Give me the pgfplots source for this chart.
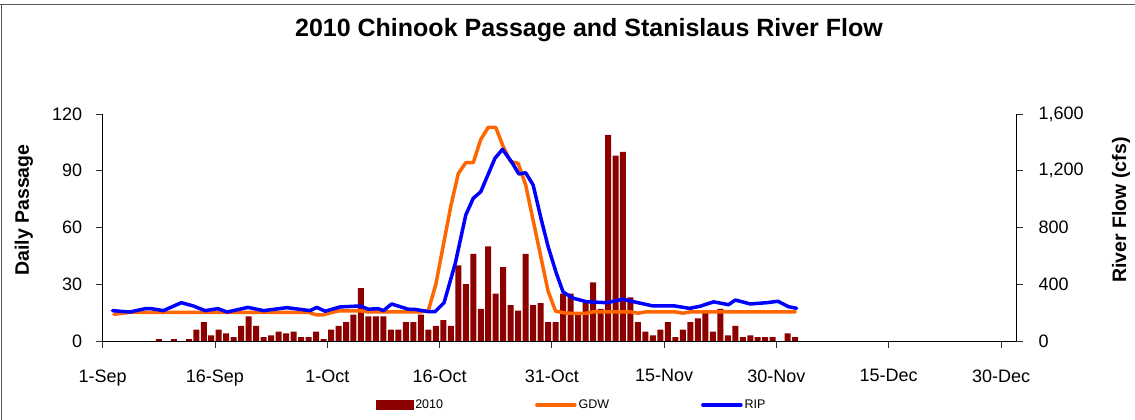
\documentclass[border=0pt]{standalone}
\usepackage{fontspec}
\setmainfont{Liberation Sans}
\usepackage{pgfplots}
\pgfplotsset{compat=1.18}
\definecolor{barred}{RGB}{140,0,0}
\definecolor{gdw}{RGB}{255,102,0}
\definecolor{rip}{RGB}{0,0,255}
\begin{document}
\begin{tikzpicture}[x=1pt,y=1pt]
\useasboundingbox (0,0) rectangle (1135,420);
\draw[black!65, line width=1pt] (0,415) -- (1135,415);
\draw[black!65, line width=1pt] (1,0) -- (1,415);
\node[font=\fontsize{25}{30}\selectfont\bfseries, anchor=base] at (589,383) {2010 Chinook Passage and Stanislaus River Flow};
\node[font=\fontsize{19.5}{22}\selectfont\bfseries, rotate=90] at (24,210) {Daily Passage};
\node[font=\fontsize{19.5}{22}\selectfont\bfseries, rotate=90] at (1121,210) {River Flow (cfs)};

\begin{axis}[
  at={(102.7pt,79pt)}, anchor=south west,
  width=913.3pt, height=227pt, scale only axis,
  xmin=0, xmax=122, ymin=0, ymax=120,
  axis y line*=left, axis x line*=bottom,
  axis line style={-, black, line width=0.8pt},
  ytick={0,30,60,90,120},
  xtick={0,15,30,45,60,75,90,105,120},
  xticklabels={1-Sep,16-Sep,1-Oct,16-Oct,31-Oct,15-Nov,30-Nov,15-Dec,30-Dec},
  tick align=outside, major tick length=7pt,
  tick style={black!80, line width=0.8pt},
  tick label style={font=\fontsize{18}{20}\selectfont},
  xticklabel style={yshift=-18pt},
  yticklabel style={xshift=-10pt},
  /pgf/number format/assume math mode=true,
  clip=false,
]
\addplot[ybar, bar width=6pt, fill=barred, draw=none] coordinates {
(7.5,1) (9.5,1) (11.5,1) (12.5,6) (13.5,10) (14.5,3) (15.5,6) (16.5,4) (17.5,2)
(18.5,8) (19.5,13) (20.5,8) (21.5,2) (22.5,3) (23.5,5) (24.5,4) (25.5,5) (26.5,2)
(27.5,2) (28.5,5) (29.5,1) (30.5,6) (31.5,8) (32.5,10) (33.5,14) (34.5,28) (35.5,13)
(36.5,13) (37.5,13) (38.5,6) (39.5,6) (40.5,10) (41.5,10) (42.5,14) (43.5,6) (44.5,8)
(45.5,11) (46.5,8) (47.5,40) (48.5,30) (49.5,46) (50.5,17) (51.5,50) (52.5,25) (53.5,39)
(54.5,19) (55.5,16) (56.5,46) (57.5,19) (58.5,20) (59.5,10) (60.5,10) (61.5,25) (62.5,25)
(63.5,15) (64.5,20) (65.5,31) (66.5,17) (67.5,109) (68.5,98) (69.5,100) (70.5,23) (71.5,10)
(72.5,5) (73.5,3) (74.5,6) (75.5,10) (76.5,2) (77.5,6) (78.5,10) (79.5,12) (80.5,15)
(81.5,5) (82.5,17) (83.5,3) (84.5,8) (85.5,2) (86.5,3) (87.5,2) (88.5,2) (89.5,2)
(91.5,4) (92.5,2)
};
\end{axis}

\begin{axis}[
  at={(102.7pt,79pt)}, anchor=south west,
  width=913.3pt, height=227pt, scale only axis,
  xmin=0, xmax=122, ymin=0, ymax=1600,
  axis y line*=right, axis x line=none,
  axis line style={-, black, line width=0.8pt},
  ytick={0,400,800,1200,1600},
  tick align=outside, major tick length=7pt,
  tick style={black!80, line width=0.8pt},
  tick label style={font=\fontsize{18}{20}\selectfont},
  yticklabel style={xshift=12pt},
  /pgf/number format/assume math mode=true,
  /pgf/number format/1000 sep={,},
  clip=false,
  legend image code/.code={\draw[#1, line cap=round] (0pt,0pt) -- (38pt,0pt);},
  legend style={at={(0.5135,-0.282)}, anchor=center, draw=none, fill=none,
    font=\fontsize{12.5}{14}\selectfont, legend columns=3,
    /tikz/every even column/.append style={column sep=90pt}},
]
\addlegendimage{legend image code/.code={\fill[barred] (0pt,-4.5pt) rectangle (37pt,4.5pt);}}
\addlegendentry{2010}
\addplot[gdw, line width=3.5pt, line join=round, line cap=round, no marks] coordinates {
(1.5,188) (3.5,202) (27.5,202) (28.5,185) (29.5,185) (30.5,200) (31.5,212) (34.5,212)
(35.5,205) (42.5,205) (43.5,215) (44.5,400) (45.5,675) (46.5,950) (47.5,1180) (48.5,1257)
(49.5,1257) (50.5,1420) (51.5,1506) (52.5,1506) (53.5,1370) (54.5,1264) (55.5,1252)
(56.5,1100) (57.5,850) (58.5,600) (59.5,350) (60.5,210) (61.5,200) (62.5,195) (64.5,195)
(65.5,205) (70.5,205) (71.5,196) (72.5,205) (76.5,205) (77.5,196) (78.5,205) (92.5,205)
};
\addlegendentry{GDW}
\addplot[rip, line width=3.5pt, line join=round, line cap=round, no marks] coordinates {
(1.3,214) (3.6,204) (5.7,228) (6.5,228) (8.1,214) (10.5,270) (12.1,247) (13.7,214)
(15.4,228) (16.6,204) (19.4,237) (21.5,214) (24.6,235) (27.7,214) (28.6,237) (29.7,210)
(31.7,240) (34.4,247) (35.5,224) (36.8,228) (37.5,214) (38.6,261) (40.8,224) (41.7,223)
(43.5,207) (44.4,207) (45.6,270) (47.1,548) (48.5,888) (49.5,1006) (50.5,1052) (52.4,1288)
(53.4,1351) (54.6,1264) (55.6,1177) (56.5,1186) (57.5,1099) (58.6,853) (59.5,665)
(60.6,477) (61.5,345) (62.9,301) (64.6,277) (67.3,270) (69.5,294) (70.9,277) (73.5,247)
(76.4,247) (78.4,230) (79.8,245) (81.6,276) (83.6,256) (84.5,289) (86.5,261) (88.7,270)
(90.2,280) (91.6,242) (92.7,230)
};
\addlegendentry{RIP}
\end{axis}
\end{tikzpicture}
\end{document}
